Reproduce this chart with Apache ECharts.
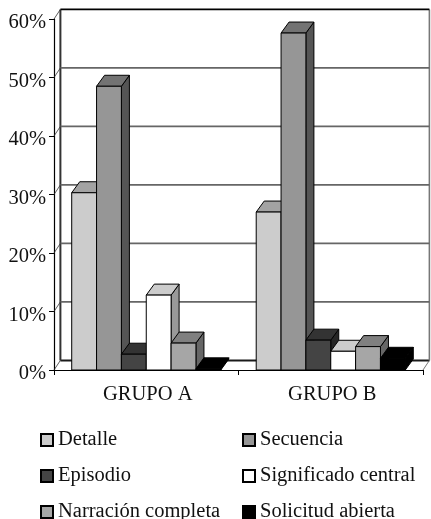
<!DOCTYPE html>
<html>
<head>
<meta charset="utf-8">
<style>html,body{margin:0;padding:0;background:#fff}#c{width:431px;height:519px}</style>
<script src="https://cdn.jsdelivr.net/npm/echarts@6/dist/echarts.min.js"></script>
</head>
<body>
<div id="c"></div>
<script>
const categories = ['GRUPO A', 'GRUPO B'];
const yTicks = [0, 10, 20, 30, 40, 50, 60];
const seriesNames = ['Detalle', 'Secuencia', 'Episodio', 'Significado central', 'Narración completa', 'Solicitud abierta'];
const detalle = [30.3, 27.0];
const secuencia = [48.5, 57.6];
const episodio = [2.7, 5.1];
const significado = [12.8, 3.2];
const narracion = [4.6, 4.0];
const solicitud = [0.2, 2.0];
const seriesValues = [detalle, secuencia, episodio, significado, narracion, solicitud];

const frontColors = ['#cccccc', '#969696', '#444444', '#ffffff', '#a6a6a6', '#000000'];
const topColors = ['#a3a3a3', '#737373', '#333333', '#cccccc', '#808080', '#000000'];
const sideColors = ['#8a8a8a', '#555555', '#262626', '#999999', '#666666', '#000000'];

const FONT = '"Liberation Serif", "Times New Roman", serif';
const FS = 20.5;
const WALL_DX = 6.4, WALL_DY = -9.6;
const BAR_DX = 8, BAR_DY = -11;
const GROUP_RATIO = 0.808;

function poly(pts, fill, stroke, lw) {
  return {type: 'polygon', shape: {points: pts}, style: {fill: fill, stroke: stroke, lineWidth: lw}};
}
function line(x1, y1, x2, y2, color, width) {
  return {type: 'line', shape: {x1, y1, x2, y2}, style: {stroke: color, lineWidth: width, fill: null}};
}

function renderWall(params, api) {
  const v = api.value(0);
  const left = api.coord([0, v]);
  const band = api.size([1, 0])[0];
  const x0 = left[0] - band / 2, x1 = left[0] + band * 1.5, y = left[1];
  const bx0 = x0 + WALL_DX, bx1 = x1 + WALL_DX, by = y + WALL_DY;
  const color = v === 0 ? '#1a1a1a' : (v === 60 ? '#000000' : '#666666');
  const children = [
    line(bx0, by, bx1, by, color, v === 0 ? 2 : 1.6),
    line(x0, y, bx0, by, '#333333', 0.8)
  ];
  if (v === 0) {
    const top = api.coord([0, 60])[1];
    children.push(line(bx0, top + WALL_DY, bx0, by, '#333333', 2));
    children.push(line(bx1, top + WALL_DY, bx1, by, '#777777', 1.6));
    children.push(line(x1, y, bx1, by, '#555555', 0.8));
  }
  return {type: 'group', children};
}

function renderBar(si) {
  return function (params, api) {
    const cat = api.value(0), val = api.value(1);
    const c = api.coord([cat, val]), base = api.coord([cat, 0]);
    const band = api.size([1, 0])[0];
    const w = band * GROUP_RATIO / seriesNames.length;
    const xL = c[0] - band * GROUP_RATIO / 2 + si * w, xR = xL + w;
    const yT = c[1], yB = base[1];
    return {type: 'group', children: [
      poly([[xR, yT], [xR + BAR_DX, yT + BAR_DY], [xR + BAR_DX, yB + BAR_DY], [xR, yB]], sideColors[si], '#000', 1),
      poly([[xL, yT], [xL + BAR_DX, yT + BAR_DY], [xR + BAR_DX, yT + BAR_DY], [xR, yT]], topColors[si], '#000', 1),
      poly([[xL, yT], [xR, yT], [xR, yB], [xL, yB]], frontColors[si], '#000', 1)
    ]};
  };
}

const series = [{
  type: 'custom', name: 'wall', silent: true, z: 1,
  data: yTicks.map(t => [t]),
  encode: {y: 0},
  renderItem: renderWall
}].concat(seriesNames.map((n, si) => ({
  type: 'custom', name: n, z: 2 + si,
  itemStyle: {color: frontColors[si], borderColor: '#000', borderWidth: 1},
  data: seriesValues[si].map((v, i) => [i, v]),
  encode: {x: 0, y: 1},
  renderItem: renderBar(si)
})));

const legendCols = [35, 237];
const legendRows = [424.5, 460.5, 496.5];
const legends = seriesNames.map((n, i) => ({
  orient: 'horizontal', itemWidth: 12, itemHeight: 12, icon: 'rect',
  left: legendCols[i % 2], top: legendRows[Math.floor(i / 2)],
  selectedMode: false, data: [n],
  textStyle: {fontFamily: FONT, fontSize: FS, color: '#111'}
}));

const chart = echarts.init(document.getElementById('c'), null, {renderer: 'canvas'});
chart.setOption({
  animation: false,
  backgroundColor: '#fff',
  grid: {left: 54, right: 8, top: 19, bottom: 149},
  legend: legends,
  xAxis: {
    type: 'category', data: categories, boundaryGap: true,
    axisLine: {lineStyle: {color: '#000', width: 1.2}},
    axisTick: {show: true, length: 5, alignWithLabel: false, lineStyle: {color: '#000', width: 1}},
    axisLabel: {fontFamily: FONT, fontSize: FS, color: '#111', margin: 14, padding: [0, 0, 0, 3]},
    splitLine: {show: false}
  },
  yAxis: {
    type: 'value', min: 0, max: 60, interval: 10,
    axisLine: {show: true, lineStyle: {color: '#000', width: 1.2}},
    axisTick: {show: true, length: 5, lineStyle: {color: '#000', width: 1}},
    axisLabel: {formatter: '{value}%', fontFamily: FONT, fontSize: FS, color: '#111', margin: 8, verticalAlign: 'top', lineHeight: 8},
    splitLine: {show: false}
  },
  series
});
</script>
</body>
</html>
